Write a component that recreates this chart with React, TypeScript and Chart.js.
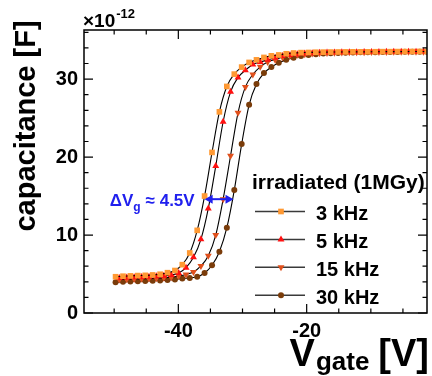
import React, { useEffect, useRef } from 'react';
import { Chart, registerables } from 'chart.js';
import { drawPoint } from 'chart.js/helpers';

Chart.register(...registerables);

// Gate voltage grids (V)
const vgateA = [-49.78, -48.62, -47.47, -46.31, -45.16, -44.0, -42.84, -41.69, -40.53, -39.38, -38.22, -37.06, -35.91, -34.75, -33.6, -32.44, -31.28, -30.13, -28.97, -27.82, -26.66, -25.5, -24.35, -23.19, -22.04, -20.88, -19.72, -18.57, -17.41, -16.26, -15.1, -13.94, -12.79, -11.63, -10.48, -9.32, -8.16, -7.01, -5.85, -4.7, -3.54, -2.38, -1.23];
const vgateB = [-49.2, -48.04, -46.89, -45.73, -44.58, -43.42, -42.26, -41.11, -39.95, -38.8, -37.64, -36.48, -35.33, -34.17, -33.02, -31.86, -30.7, -29.55, -28.39, -27.24, -26.08, -24.92, -23.77, -22.61, -21.46, -20.3, -19.14, -17.99, -16.83, -15.68, -14.52, -13.36, -12.21, -11.05, -9.9, -8.74, -7.58, -6.43, -5.27, -4.12, -2.96, -1.8, -0.65];

// Capacitance values (x 1e-12 F)
const cap3kHz = [4.65, 4.72, 4.76, 4.8, 4.83, 4.88, 4.97, 5.17, 5.45, 6.2, 7.7, 10.6, 15.0, 20.6, 25.8, 29.06, 30.64, 31.54, 32.14, 32.47, 32.78, 32.99, 33.1, 33.25, 33.35, 33.4, 33.42, 33.45, 33.46, 33.47, 33.48, 33.49, 33.5, 33.5, 33.5, 33.51, 33.52, 33.52, 33.53, 33.53, 33.54, 33.55, 33.55];
const cap5kHz = [4.5, 4.55, 4.58, 4.62, 4.66, 4.7, 4.77, 4.88, 5.12, 5.81, 7.14, 9.45, 13.42, 18.85, 24.53, 28.37, 30.2, 31.15, 31.88, 32.2, 32.47, 32.73, 32.95, 33.08, 33.2, 33.28, 33.33, 33.37, 33.4, 33.42, 33.44, 33.45, 33.46, 33.47, 33.48, 33.49, 33.5, 33.5, 33.51, 33.52, 33.52, 33.53, 33.54];
const cap15kHz = [4.3, 4.33, 4.36, 4.4, 4.43, 4.47, 4.52, 4.6, 4.75, 4.95, 5.26, 6.03, 7.35, 10.0, 14.6, 20.17, 25.68, 29.0, 30.6, 31.58, 32.2, 32.5, 32.8, 33.0, 33.12, 33.2, 33.27, 33.32, 33.36, 33.39, 33.41, 33.43, 33.45, 33.46, 33.47, 33.48, 33.49, 33.5, 33.5, 33.51, 33.52, 33.52, 33.53];
const cap30kHz = [3.94, 4.0, 4.04, 4.07, 4.1, 4.13, 4.17, 4.22, 4.3, 4.42, 4.5, 4.65, 5.13, 6.12, 7.86, 10.94, 15.77, 21.67, 26.7, 29.36, 30.77, 31.54, 32.1, 32.47, 32.73, 32.95, 33.1, 33.2, 33.27, 33.32, 33.36, 33.39, 33.41, 33.43, 33.45, 33.46, 33.47, 33.48, 33.49, 33.5, 33.5, 33.51, 33.52];

const seriesLabels = ['3 kHz', '5 kHz', '15 kHz', '30 kHz'];
const seriesColors = ['#ff9933', '#ff1010', '#e0501c', '#7a3c0a'];
const seriesStyles = ['rect', 'triangle', 'triangle', 'circle'];
const seriesRotation = [0, 0, 180, 0];
const seriesRadius = [4, 4, 4, 3];

const xTickValues = [-40, -20];
const yTickValues = [0, 10, 20, 30];
const xRange = [-54.7, -1.25];
const yRange = [0, 36.3];

const legendHeader = 'irradiated (1MGy)';
const yTitleText = 'capacitance [F]';
const xTitleMain = 'V';
const xTitleSub = 'gate';
const xTitleUnit = '[V]';
const exponentBase = '×10';
const exponentPower = '-12';

// ΔVg annotation (data coordinates)
const deltaArrowY = 14.6;
const deltaArrowFrom = -35.9;
const deltaArrowTo = -31.4;
const deltaLabelMain = 'ΔV';
const deltaLabelSub = 'g';
const deltaLabelRest = '≈ 4.5V';

const FONT = '"Liberation Sans", Arial, Helvetica, sans-serif';
const BLUE = '#2020ee';

const decorPlugin = {
  id: 'decor',
  afterDraw(chart: any) {
    const ctx = chart.ctx as CanvasRenderingContext2D;
    const { left, right, top, bottom } = chart.chartArea;
    const xs = chart.scales.x;
    const ys = chart.scales.y;
    ctx.save();

    // frame
    ctx.strokeStyle = '#000';
    ctx.lineWidth = 1.5;
    ctx.strokeRect(left, top, right - left, bottom - top);

    // x ticks (inside, bottom & top)
    ctx.lineWidth = 1.2;
    ctx.beginPath();
    for (let v = -55; v <= 0; v += 5) {
      if (v < xRange[0] || v > xRange[1]) continue;
      const px = xs.getPixelForValue(v);
      const len = v % 20 === 0 ? 9 : 4.5;
      ctx.moveTo(px, bottom);
      ctx.lineTo(px, bottom - len);
      ctx.moveTo(px, top);
      ctx.lineTo(px, top + len);
    }
    // y ticks (inside, left & right)
    for (let v = 0; v <= 36; v += 2) {
      const py = ys.getPixelForValue(v);
      const len = v % 10 === 0 ? 9 : 4.5;
      ctx.moveTo(left, py);
      ctx.lineTo(left + len, py);
      ctx.moveTo(right, py);
      ctx.lineTo(right - len, py);
    }
    ctx.stroke();

    // exponent label
    ctx.fillStyle = '#000';
    ctx.textAlign = 'left';
    ctx.textBaseline = 'alphabetic';
    ctx.font = `bold 19px ${FONT}`;
    ctx.fillText(exponentBase, left - 1, top - 3);
    const wBase = ctx.measureText(exponentBase).width;
    ctx.font = `bold 13px ${FONT}`;
    ctx.fillText(exponentPower, left - 1 + wBase + 1, top - 12);

    // y title
    ctx.save();
    ctx.translate(35, 126);
    ctx.rotate(-Math.PI / 2);
    ctx.font = `bold 29px ${FONT}`;
    ctx.textAlign = 'center';
    ctx.fillText(yTitleText, 0, 0);
    ctx.restore();

    // x title
    ctx.font = `bold 38px ${FONT}`;
    const wV = ctx.measureText(xTitleMain).width;
    const wUnit = ctx.measureText(xTitleUnit).width;
    ctx.font = `bold 26px ${FONT}`;
    const wSub = ctx.measureText(xTitleSub).width;
    const gap = 10;
    const xStart = right + 2 - (wV + wSub + gap + wUnit);
    ctx.font = `bold 38px ${FONT}`;
    ctx.fillText(xTitleMain, xStart, 366);
    ctx.fillText(xTitleUnit, xStart + wV + wSub + gap, 366);
    ctx.font = `bold 26px ${FONT}`;
    ctx.fillText(xTitleSub, xStart + wV + 1, 370);

    // legend
    ctx.font = `bold 21px ${FONT}`;
    ctx.fillText(legendHeader, 252, 189);
    const rowY0 = 211.5;
    const rowStep = 27.9;
    for (let i = 0; i < seriesLabels.length; i++) {
      const y = rowY0 + i * rowStep;
      ctx.strokeStyle = '#3a3a3a';
      ctx.lineWidth = 1.5;
      ctx.beginPath();
      ctx.moveTo(255, y);
      ctx.lineTo(305, y);
      ctx.stroke();
      ctx.fillStyle = seriesColors[i];
      ctx.strokeStyle = seriesColors[i];
      drawPoint(ctx, { pointStyle: seriesStyles[i], rotation: seriesRotation[i], radius: seriesRadius[i], borderWidth: 0 } as any, 281, y);
      ctx.fillStyle = '#000';
      ctx.font = `bold 20px ${FONT}`;
      ctx.textBaseline = 'middle';
      ctx.fillText(seriesLabels[i], 316, y + 3);
      ctx.textBaseline = 'alphabetic';
    }

    // ΔVg arrow
    const ay = ys.getPixelForValue(deltaArrowY);
    const ax1 = xs.getPixelForValue(deltaArrowFrom);
    const ax2 = xs.getPixelForValue(deltaArrowTo);
    ctx.strokeStyle = BLUE;
    ctx.fillStyle = BLUE;
    ctx.lineWidth = 2;
    ctx.beginPath();
    ctx.moveTo(ax1 + 5, ay);
    ctx.lineTo(ax2 - 5, ay);
    ctx.stroke();
    ctx.beginPath();
    ctx.moveTo(ax1, ay);
    ctx.lineTo(ax1 + 8, ay - 4.5);
    ctx.lineTo(ax1 + 8, ay + 4.5);
    ctx.closePath();
    ctx.moveTo(ax2, ay);
    ctx.lineTo(ax2 - 8, ay - 4.5);
    ctx.lineTo(ax2 - 8, ay + 4.5);
    ctx.closePath();
    ctx.fill();

    // ΔVg label
    ctx.font = `bold 17px ${FONT}`;
    const wMain = ctx.measureText(deltaLabelMain).width;
    const wRest = ctx.measureText(deltaLabelRest).width;
    ctx.font = `bold 12px ${FONT}`;
    const wG = ctx.measureText(deltaLabelSub).width;
    const total = wMain + wG + 5 + wRest;
    const lx = ax1 - 10 - total;
    const lb = ay + 7;
    ctx.font = `bold 17px ${FONT}`;
    ctx.fillText(deltaLabelMain, lx, lb);
    ctx.fillText(deltaLabelRest, lx + wMain + wG + 5, lb);
    ctx.font = `bold 12px ${FONT}`;
    ctx.fillText(deltaLabelSub, lx + wMain, lb + 5);

    ctx.restore();
  },
};

export default function App() {
  const canvasRef = useRef<HTMLCanvasElement | null>(null);

  useEffect(() => {
    const canvas = canvasRef.current;
    if (!canvas) return;
    const grids = [vgateA, vgateB, vgateB, vgateA];
    const values = [cap3kHz, cap5kHz, cap15kHz, cap30kHz];
    const datasets = seriesLabels.map((label, i) => ({
      label,
      data: grids[i].map((x, j) => ({ x, y: values[i][j] })),
      borderColor: '#000',
      borderWidth: 1.1,
      tension: 0.4,
      cubicInterpolationMode: 'monotone' as const,
      pointStyle: seriesStyles[i] as any,
      pointRotation: seriesRotation[i],
      pointRadius: seriesRadius[i],
      pointBackgroundColor: seriesColors[i],
      pointBorderColor: seriesColors[i],
      pointBorderWidth: 0,
      fill: false,
    }));

    const chart = new Chart(canvas, {
      type: 'line',
      data: { datasets },
      options: {
        animation: false,
        responsive: false,
        events: [],
        layout: { padding: { top: 30, right: 5, left: 0, bottom: 0 } },
        plugins: { legend: { display: false }, tooltip: { enabled: false } },
        scales: {
          x: {
            type: 'linear',
            min: xRange[0],
            max: xRange[1],
            afterFit: (s: any) => { s.height = 63; },
            grid: { display: false, drawTicks: false },
            border: { display: false },
            ticks: {
              stepSize: 20,
              includeBounds: false,
              padding: 6,
              color: '#000',
              font: { family: FONT, size: 20, weight: 'bold' },
              callback: (v: any) => (xTickValues.includes(Number(v)) ? String(v) : ''),
              maxRotation: 0,
              autoSkip: false,
            },
          },
          y: {
            type: 'linear',
            min: yRange[0],
            max: yRange[1],
            afterFit: (s: any) => { s.width = 84; },
            grid: { display: false, drawTicks: false },
            border: { display: false },
            ticks: {
              stepSize: 10,
              includeBounds: false,
              padding: 6,
              color: '#000',
              font: { family: FONT, size: 20, weight: 'bold' },
              callback: (v: any) => (yTickValues.includes(Number(v)) ? String(v) : ''),
              autoSkip: false,
            },
          },
        },
      },
      plugins: [decorPlugin],
    });
    return () => chart.destroy();
  }, []);

  return (
    <div style={{ position: 'absolute', left: 0, top: 0, width: 432, height: 376, background: '#fff' }}>
      <canvas ref={canvasRef} width={432} height={376} style={{ display: 'block', width: 432, height: 376 }} />
    </div>
  );
}
